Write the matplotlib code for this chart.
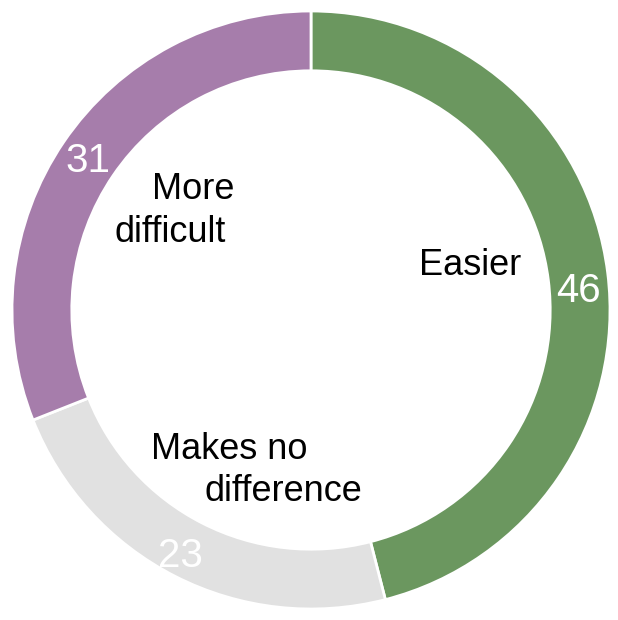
import numpy as np
import matplotlib.pyplot as plt

categories = ["Easier", "Makes no difference", "More difficult"]
values = [46, 23, 31]
colors = ["#6b975f", "#e1e1e1", "#a67dab"]

# value labels on the ring: angle from top (clockwise), radius
num_angles = [85.1, 208.4, 304.4]
num_radii = [0.898, 0.92, 0.903]

# category names, one text per line, placed in the hole (x, y offsets from centre)
name_lines = ["Easier", "Makes no", "difference", "More", "difficult"]
name_x = [0.532, -0.273, -0.092, -0.393, -0.472]
name_y = [0.161, -0.452, -0.592, 0.418, 0.274]

fig = plt.figure(figsize=(6.18, 6.2), dpi=100)
ax = fig.add_axes([0, 0, 1, 1])

ax.pie(values, colors=colors, startangle=90, counterclock=False, radius=1.0,
       wedgeprops=dict(width=0.2, edgecolor="white", linewidth=2))

font = ["Liberation Sans", "DejaVu Sans"]

for v, ang, r in zip(values, num_angles, num_radii):
    a = np.deg2rad(ang)
    ax.text(r * np.sin(a), r * np.cos(a), str(v), ha="center", va="center_baseline",
            color="white", fontsize=29, family=font)

for line, x, y in zip(name_lines, name_x, name_y):
    ax.text(x, y, line, ha="center", va="center_baseline", color="black",
            fontsize=26, family=font)

ax.set_xlim(-311 / 299, (618 - 311) / 299)
ax.set_ylim(-310 / 299, 310 / 299)
ax.set_aspect("auto")
ax.axis("off")

fig.savefig("out.png", dpi=100)
